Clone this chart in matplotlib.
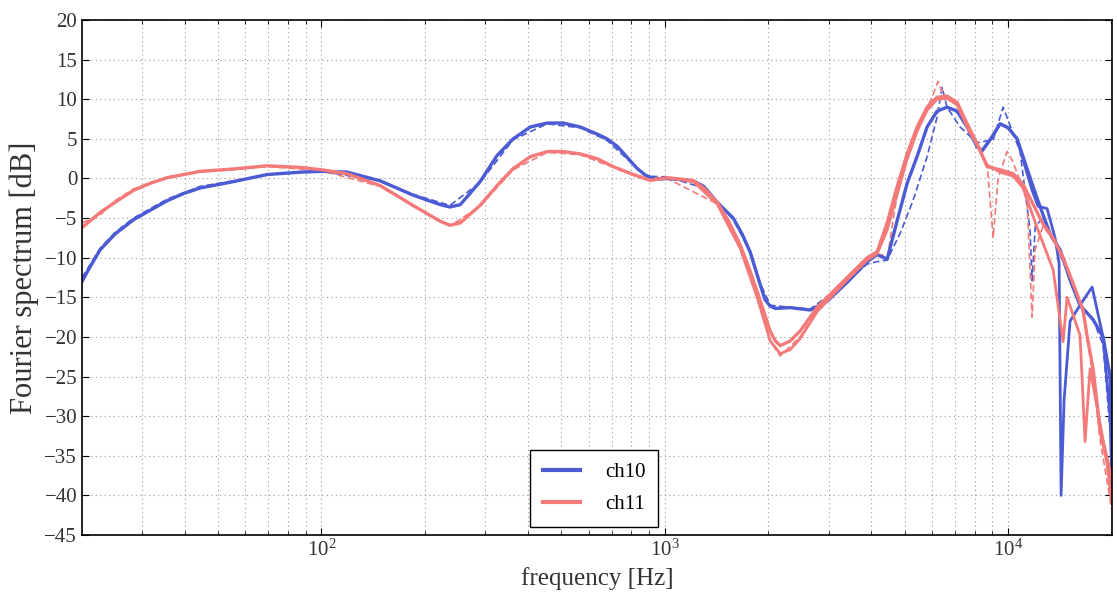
import matplotlib
matplotlib.use("Agg")
import matplotlib.pyplot as plt

plt.rcParams['font.family'] = 'serif'
plt.rcParams['font.serif'] = ['Liberation Serif', 'DejaVu Serif']
plt.rcParams['mathtext.fontset'] = 'stix'

x_label = "frequency [Hz]"
y_label = "Fourier spectrum [dB]"
labels = ["ch10", "ch11"]

y_ticks = list(range(-45, 21, 5))

# ch10, solid line 1 (frequency in Hz, level in dB)
ch10_a_f = [20.1, 21, 22.7, 25.1, 28.4, 31.8, 35.6, 39.7, 44.4, 55.4, 69.6, 86.9, 100,
            119, 148.5, 185, 222, 237, 254, 290, 325, 362, 406, 455, 506, 568, 636,
            680, 730, 780, 830, 880, 940, 1017, 1211, 1300, 1421, 1500, 1583, 1680, 1774,
            1897, 1960, 2028, 2100, 2320, 2652, 2972, 3399, 3886, 4156, 4444, 4754, 5082,
            5434, 5809, 6211, 6642, 7102, 7597, 8124, 8400, 8900, 9478, 10000, 10622,
            11358, 12144, 13247, 14170, 15150, 16198, 17676, 18900, 19815, 20082]
ch10_a_db = [-13, -11.5, -9.0, -7.0, -5.2, -4.0, -2.8, -1.9, -1.2, -0.4, 0.5, 0.8, 0.9,
             0.8, -0.3, -2.1, -3.3, -3.6, -3.3, -0.4, 2.9, 5.0, 6.5, 7.0, 7.0, 6.5, 5.6,
             5.0, 4.0, 2.6, 1.3, 0.4, -0.1, 0.0, -0.3, -1.0, -3.0, -4.0, -5.0, -7.0, -9.3,
             -13.4, -15.3, -16.1, -16.4, -16.3, -16.6, -15.5, -13.1, -10.5, -9.6, -10.2, -5.3, -0.6,
             2.8, 6.5, 8.5, 9.0, 8.5, 6.5, 4.0, 3.5, 5.0, 6.9, 6.4, 5.0,
             1.2, -2.5, -7.0, -9.0, -12.8, -16.0, -17.8, -20.0, -25.0, -33]

# ch10, solid line 2 (high-frequency branch)
ch10_b_f = [8124, 8400, 8900, 9478, 10000, 10622, 11207, 11745, 12225, 12983, 13702,
            14075, 14170, 14265, 14554, 15150, 16198, 17558, 18900, 19815, 20082]
ch10_b_db = [4.0, 3.5, 5.0, 6.9, 6.4, 5.0, 1.5, -1.5, -3.5, -3.8, -7.5,
             -10.7, -25, -40, -28, -18, -16, -13.7, -20, -30, -40]

# ch10, dashed line
ch10_c_f = [20.1, 22.7, 25.1, 28.4, 35.6, 44.4, 55.4, 69.6, 100, 148.5, 185, 237, 290,
            362, 455, 568, 680, 780, 880, 1017, 1300, 1421, 1583, 1774, 1897, 2028, 2652,
            3399, 3886, 4156, 4444, 4850, 5290, 5809, 6211, 6423, 6642, 7247, 8124, 9045,
            9670, 10836, 11588, 11745, 12000, 12639, 13247, 14170, 15150, 16198, 17676,
            18900, 20082]
ch10_c_db = [-12.5, -8.8, -6.8, -5.0, -2.6, -1.0, -0.3, 0.5, 0.9, -0.3, -2.0, -3.4, -0.5,
             4.9, 6.9, 6.4, 4.8, 2.4, 0.3, 0.2, -1.2, -3.0, -5.2, -9.2, -13.2, -16.0, -16.5,
             -13.0, -10.8, -10.5, -10.3, -6.9, -2.75, 2.75, 7.75, 11.5, 9.0, 6.5, 4.5, 4.9,
             9.0, 3.4, -6.6, -12.9, -6.0, -5.0, -7.0, -9.0, -12.8, -16.0, -17.8,
             -21, -35]

# ch11, solid line 1
ch11_a_f = [20.1, 22.7, 25.1, 28.4, 31.8, 35.6, 44.4, 55.4, 69.6, 86.9, 100, 119, 148.5,
            185, 222, 237, 254, 290, 325, 362, 406, 455, 506, 568, 636, 708, 810, 908,
            1017, 1211, 1300, 1421, 1540, 1659, 1760, 1859, 1950, 2028, 2100, 2169, 2320,
            2480, 2780, 3399, 3886, 4156, 4444, 4754, 5082, 5434, 5809, 6211, 6642, 7102,
            7597, 8124, 8688, 9478, 10342, 11058, 11824, 12639, 13520, 14457, 15457,
            16527, 16982, 17676, 18525, 19413, 20082]
ch11_a_db = [-6.2, -4.3, -3.0, -1.5, -0.6, 0.1, 0.9, 1.2, 1.6, 1.4, 1.1, 0.6, -0.9,
             -3.4, -5.4, -5.9, -5.6, -3.4, -0.9, 1.25, 2.75, 3.4, 3.4, 3.1, 2.5, 1.5, 0.5, -0.25,
             0.1, -0.25, -1.2, -3.0, -5.5, -8.4, -11.3, -14.25, -17.0, -19.25, -20.5, -21.1, -20.5,
             -19.25, -16.25, -12.5, -10.0, -9.25, -5.6, -1.0, 3.1, 6.5, 9.0, 10.25, 10.4, 9.6,
             6.9, 4.4, 1.5, 1.1, 0.6, -0.75, -3.25, -5.75, -7.5, -10.0, -13.25,
             -16.6, -19.9, -24, -31.7, -35.8, -41]

# ch11, solid line 2 (from 1 kHz up)
ch11_b_f = [1017, 1211, 1421, 1659, 1859, 2028, 2169, 2320, 2480, 2780, 3399, 3886, 4156,
            4444, 4754, 5082, 5434, 5809, 6211, 6642, 7102, 7597, 8124, 8688, 9478,
            10342, 11058, 12144, 13520, 14457, 14850, 16198, 16750, 17325, 18900, 20082]
ch11_b_db = [0.1, -0.4, -3.2, -8.8, -15.0, -20.5, -22.1, -21.6, -20.2, -16.8, -12.8, -10.3, -9.5,
             -6.5, -2.0, 2.5, 6.0, 8.6, 10.0, 10.1, 9.3, 6.5, 4.2, 1.7, 0.8,
             0.3, -1.2, -6.2, -11.5, -20.6, -15.0, -19.8, -33.2, -24.0, -33.0, -38.0]

# ch11, dashed line
ch11_c_f = [20.1, 22.7, 25.1, 28.4, 35.6, 44.4, 55.4, 69.6, 100, 148.5, 185, 237, 290,
            362, 455, 568, 708, 810, 1017, 1421, 1659, 1859, 2028, 2169, 2480, 2780,
            3399, 3886, 4241, 4444, 4754, 5082, 5544, 6047, 6253, 6466, 7102, 7597,
            8124, 8688, 9045, 9352, 9933, 10342, 11358, 11745, 11983, 12639, 13520,
            14457, 15457, 16527, 17676, 18525, 20082]
ch11_c_db = [-5.6, -4.6, -2.8, -1.3, 0.2, 0.8, 1.1, 1.5, 1.0, -1.0, -3.5, -6.0, -3.5,
             1.1, 3.3, 3.0, 1.4, 0.4, 0.0, -3.2, -8.8, -15.0, -20.5, -22.4, -20.0, -16.5,
             -12.6, -10.2, -9.4, -10.25, -1.9, 2.25, 6.9, 10.6, 12.25, 10.6, 9.4, 6.7,
             4.2, 1.75, -7.5, 0.0, 3.4, 2.1, -2.9, -17.5, -9.0, -6.0, -7.8,
             -10.5, -13.5, -17.0, -25, -33, -42]

blue = '#4a5bd4'
red = '#f47a7a'


def main():
    fig = plt.figure(figsize=(11.17, 6.07), dpi=100)
    ax = fig.add_axes([0.0734, 0.1186, 0.9222, 0.8484])

    ax.plot(ch10_c_f, ch10_c_db, color=blue, lw=1.2, ls='--', dashes=(4, 2))
    ax.plot(ch11_c_f, ch11_c_db, color=red, lw=1.2, ls='--', dashes=(4, 2))
    ax.plot(ch10_a_f, ch10_a_db, color=blue, lw=2.4, label=labels[0])
    ax.plot(ch10_b_f, ch10_b_db, color=blue, lw=2.0)
    ax.plot(ch11_a_f, ch11_a_db, color=red, lw=2.4, label=labels[1])
    ax.plot(ch11_b_f, ch11_b_db, color=red, lw=2.0)

    ax.set_xscale('log')
    ax.set_xlim(20.1, 20080)
    ax.set_ylim(-45, 20)
    ax.set_yticks(y_ticks)

    grid_style = dict(ls=(0, (1, 3)), color='0.6', lw=0.8)
    ax.grid(True, which='major', axis='y', **grid_style)
    ax.grid(True, which='both', axis='x', **grid_style)
    ax.tick_params(which='both', direction='in', top=True, right=True, labelsize=15,
                   labelcolor='0.2')
    ax.tick_params(which='major', length=5)
    ax.tick_params(which='minor', length=3)
    for s in ax.spines.values():
        s.set_linewidth(1.2)

    ax.set_xlabel(x_label, fontsize=18, labelpad=4, color='0.2')
    ax.set_ylabel(y_label, fontsize=22, labelpad=4, color='0.2')

    leg = ax.legend(loc='lower left', bbox_to_anchor=(0.435, 0.016), borderaxespad=0,
                    fontsize=15, fancybox=False, framealpha=1, edgecolor='black',
                    handlelength=1.8, handletextpad=1.2, borderpad=0.6, labelspacing=0.6)
    leg.get_frame().set_linewidth(1.0)
    for line in leg.get_lines():
        line.set_linewidth(3)

    fig.savefig("out.png", dpi=100)


if __name__ == '__main__':
    main()
